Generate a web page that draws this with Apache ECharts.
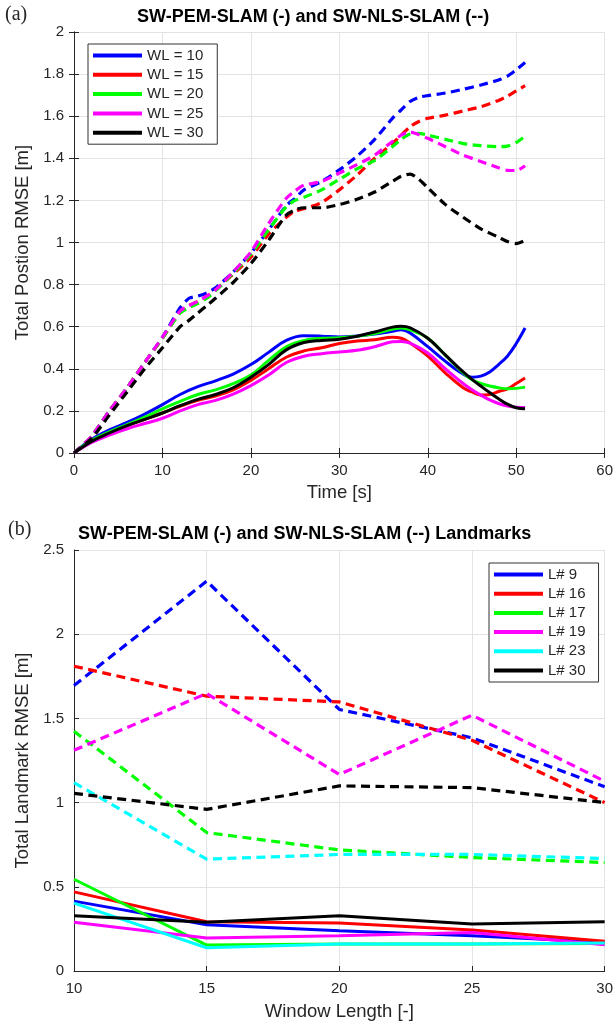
<!DOCTYPE html>
<html>
<head>
<meta charset="utf-8">
<script src="https://cdn.jsdelivr.net/npm/echarts@6/dist/echarts.min.js"></script>
<style>
  html, body { margin: 0; padding: 0; background: #fff; }
  #chart { width: 616px; height: 1028px; }
</style>
</head>
<body>
<div id="chart"></div>
<script>
// ---------- (a) Total position RMSE over time ----------
const wlNames = ['WL = 10', 'WL = 15', 'WL = 20', 'WL = 25', 'WL = 30'];
const colorsA = ['#0000ff', '#ff0000', '#00ff00', '#ff00ff', '#000000'];

// SW-PEM-SLAM (solid)
const timePem = [0, 2, 4, 6, 8, 10, 12, 14, 16, 18, 20, 22, 24, 26, 28, 30, 32, 34, 36, 37, 38, 40, 42, 44, 45, 46, 47, 48, 49, 50, 51];
const pemWL10 = [0, 0.065, 0.11, 0.145, 0.185, 0.23, 0.278, 0.315, 0.343, 0.375, 0.42, 0.478, 0.535, 0.557, 0.555, 0.551, 0.556, 0.565, 0.578, 0.585, 0.57, 0.505, 0.435, 0.375, 0.36, 0.365, 0.385, 0.42, 0.46, 0.52, 0.594];
const pemWL15 = [0, 0.055, 0.095, 0.13, 0.16, 0.19, 0.222, 0.25, 0.27, 0.3, 0.345, 0.4, 0.455, 0.485, 0.5, 0.52, 0.532, 0.538, 0.55, 0.545, 0.522, 0.46, 0.38, 0.31, 0.29, 0.275, 0.278, 0.292, 0.305, 0.33, 0.356];
const pemWL20 = [0, 0.06, 0.1, 0.135, 0.17, 0.21, 0.245, 0.278, 0.3, 0.33, 0.37, 0.44, 0.505, 0.535, 0.545, 0.548, 0.555, 0.568, 0.588, 0.594, 0.585, 0.545, 0.465, 0.38, 0.348, 0.33, 0.318, 0.31, 0.305, 0.307, 0.313];
const pemWL25 = [0, 0.05, 0.085, 0.115, 0.14, 0.165, 0.2, 0.23, 0.25, 0.28, 0.32, 0.37, 0.43, 0.46, 0.472, 0.48, 0.488, 0.505, 0.528, 0.53, 0.522, 0.475, 0.4, 0.33, 0.3, 0.275, 0.252, 0.235, 0.223, 0.217, 0.216];
const pemWL30 = [0, 0.055, 0.095, 0.13, 0.16, 0.19, 0.225, 0.255, 0.278, 0.31, 0.36, 0.42, 0.49, 0.525, 0.535, 0.54, 0.555, 0.575, 0.598, 0.602, 0.595, 0.545, 0.465, 0.385, 0.35, 0.318, 0.287, 0.258, 0.232, 0.215, 0.21];

// SW-NLS-SLAM (dashed)
const timeNls = [0, 2, 4, 6, 8, 10, 12, 13, 14, 15, 16, 18, 20, 22, 24, 25, 26, 28, 30, 32, 34, 36, 37, 38, 39, 40, 42, 44, 46, 48, 49, 50, 51];
const nlsWL10 = [0, 0.08, 0.2, 0.31, 0.43, 0.55, 0.69, 0.735, 0.745, 0.76, 0.785, 0.86, 0.95, 1.06, 1.175, 1.21, 1.25, 1.29, 1.345, 1.41, 1.49, 1.59, 1.63, 1.67, 1.69, 1.698, 1.71, 1.728, 1.748, 1.772, 1.79, 1.82, 1.855];
const nlsWL15 = [0, 0.08, 0.2, 0.31, 0.43, 0.545, 0.67, 0.7, 0.72, 0.745, 0.775, 0.85, 0.93, 1.04, 1.12, 1.15, 1.16, 1.19, 1.25, 1.32, 1.4, 1.47, 1.51, 1.55, 1.575, 1.59, 1.605, 1.625, 1.645, 1.675, 1.695, 1.72, 1.745];
const nlsWL20 = [0, 0.08, 0.2, 0.31, 0.43, 0.545, 0.665, 0.69, 0.71, 0.735, 0.77, 0.855, 0.945, 1.06, 1.17, 1.2, 1.215, 1.25, 1.3, 1.35, 1.39, 1.455, 1.49, 1.515, 1.518, 1.51, 1.49, 1.47, 1.46, 1.455, 1.458, 1.475, 1.505];
const nlsWL25 = [0, 0.08, 0.2, 0.31, 0.43, 0.55, 0.675, 0.7, 0.72, 0.745, 0.775, 0.86, 0.955, 1.09, 1.21, 1.245, 1.272, 1.29, 1.33, 1.37, 1.415, 1.48, 1.51, 1.525, 1.512, 1.495, 1.455, 1.415, 1.385, 1.355, 1.343, 1.342, 1.365];
const nlsWL30 = [0, 0.07, 0.18, 0.29, 0.4, 0.5, 0.6, 0.63, 0.665, 0.7, 0.735, 0.81, 0.9, 1.01, 1.13, 1.155, 1.165, 1.165, 1.18, 1.205, 1.24, 1.29, 1.315, 1.325, 1.3, 1.26, 1.18, 1.12, 1.065, 1.025, 1.005, 0.995, 1.01];

// ---------- (b) Landmark RMSE vs window length ----------
const windowLengths = [10, 15, 20, 25, 30];
const landmarkNames = ['L# 9', 'L# 16', 'L# 17', 'L# 19', 'L# 23', 'L# 30'];
const colorsB = ['#0000ff', '#ff0000', '#00ff00', '#ff00ff', '#00ffff', '#000000'];

const pemL9  = [0.415, 0.275, 0.239, 0.209, 0.17];
const pemL16 = [0.47, 0.292, 0.285, 0.243, 0.176];
const pemL17 = [0.545, 0.154, 0.16, 0.16, 0.164];
const pemL19 = [0.289, 0.196, 0.209, 0.229, 0.156];
const pemL23 = [0.403, 0.138, 0.16, 0.16, 0.166];
const pemL30 = [0.328, 0.289, 0.328, 0.279, 0.292];

const nlsL9  = [1.695, 2.315, 1.553, 1.385, 1.094];
const nlsL16 = [1.81, 1.632, 1.598, 1.37, 1.0];
const nlsL17 = [1.424, 0.822, 0.719, 0.674, 0.644];
const nlsL19 = [1.311, 1.648, 1.167, 1.519, 1.127];
const nlsL23 = [1.119, 0.664, 0.692, 0.692, 0.668];
const nlsL30 = [1.055, 0.96, 1.099, 1.089, 1.0];

const AXIS_COLOR = '#262626';
const GRID_COLOR = '#e3e3e3';
const SANS = "'Liberation Sans', Arial, Helvetica, sans-serif";

function fmt(v) { return String(Math.round(v * 10) / 10); }

function makeLine(name, xs, ys, color, dashed, xi, yi, smooth) {
  return {
    type: 'line',
    name: name,
    xAxisIndex: xi,
    yAxisIndex: yi,
    data: xs.map((x, i) => [x, ys[i]]),
    symbol: 'none',
    showSymbol: false,
    smooth: smooth,
    color: color,
    lineStyle: { color: color, width: dashed ? 3.2 : 3, type: dashed ? [9, 5.5] : 'solid', cap: 'butt' },
    itemStyle: { color: color },
    emphasis: { disabled: true },
    z: dashed ? 3 : 2
  };
}

const pemA = [pemWL10, pemWL15, pemWL20, pemWL25, pemWL30];
const nlsA = [nlsWL10, nlsWL15, nlsWL20, nlsWL25, nlsWL30];
const pemB = [pemL9, pemL16, pemL17, pemL19, pemL23, pemL30];
const nlsB = [nlsL9, nlsL16, nlsL17, nlsL19, nlsL23, nlsL30];

const series = [];
pemA.forEach((ys, i) => series.push(makeLine(wlNames[i], timePem, ys, colorsA[i], false, 0, 0, 0.4)));
nlsA.forEach((ys, i) => series.push(makeLine(wlNames[i] + ' NLS', timeNls, ys, colorsA[i], true, 0, 0, 0.25)));
pemB.forEach((ys, i) => series.push(makeLine(landmarkNames[i], windowLengths, ys, colorsB[i], false, 2, 2, false)));
nlsB.forEach((ys, i) => series.push(makeLine(landmarkNames[i] + ' NLS', windowLengths, ys, colorsB[i], true, 2, 2, false)));

const tickLabel = { color: AXIS_COLOR, fontFamily: SANS, fontSize: 15 };
const axisLine = { show: true, lineStyle: { color: AXIS_COLOR, width: 1 } };
const inTick = { show: true, inside: true, length: 5, lineStyle: { color: AXIS_COLOR } };
const split = { show: true, lineStyle: { color: GRID_COLOR, width: 1 } };
const nameStyle = { color: AXIS_COLOR, fontFamily: SANS, fontSize: 18.5 };

const option = {
  animation: false,
  backgroundColor: '#fff',
  title: [
    { text: '(a)', left: 5, top: 5, padding: 0,
      textStyle: { fontFamily: "'Liberation Serif', 'Times New Roman', serif", fontWeight: 'normal', fontSize: 20, color: AXIS_COLOR } },
    { text: 'SW-PEM-SLAM (-) and SW-NLS-SLAM (--)', left: 137, top: 8, padding: 0,
      textStyle: { fontFamily: SANS, fontWeight: 'bold', fontSize: 18, color: '#000' } },
    { text: '(b)', left: 8, top: 520, padding: 0,
      textStyle: { fontFamily: "'Liberation Serif', 'Times New Roman', serif", fontWeight: 'normal', fontSize: 20, color: AXIS_COLOR } },
    { text: 'SW-PEM-SLAM (-) and SW-NLS-SLAM (--) Landmarks', left: 78, top: 525, padding: 0,
      textStyle: { fontFamily: SANS, fontWeight: 'bold', fontSize: 18, color: '#000' } }
  ],
  legend: [
    {
      data: wlNames, orient: 'vertical', left: 88, top: 44,
      padding: [2, 14, 2, 5], itemGap: 0.3, itemWidth: 49, itemHeight: 4, icon: 'rect',
      backgroundColor: '#fff', borderColor: '#333', borderWidth: 1,
      textStyle: { color: AXIS_COLOR, fontFamily: SANS, fontSize: 15, lineHeight: 19 },
      selectedMode: false
    },
    {
      data: landmarkNames, orient: 'vertical', left: 489, top: 563,
      padding: [2, 13, 2, 5], itemGap: 0.2, itemWidth: 49, itemHeight: 4, icon: 'rect',
      backgroundColor: '#fff', borderColor: '#333', borderWidth: 1,
      textStyle: { color: AXIS_COLOR, fontFamily: SANS, fontSize: 15, lineHeight: 19 },
      selectedMode: false
    }
  ],
  grid: [
    { left: 74, top: 32, width: 535, height: 421, containLabel: false },
    { left: 74, top: 550, width: 535, height: 421, containLabel: false }
  ],
  xAxis: [
    { type: 'value', gridIndex: 0, min: 0, max: 60, interval: 10, position: 'bottom',
      name: 'Time [s]', nameLocation: 'middle', nameGap: 30, nameTextStyle: nameStyle,
      axisLine: axisLine, axisTick: inTick, splitLine: split,
      axisLabel: Object.assign({ margin: 10, formatter: fmt }, tickLabel) },
    { type: 'value', gridIndex: 0, min: 0, max: 60, interval: 10, position: 'top',
      axisLine: axisLine, axisTick: inTick, splitLine: { show: false }, axisLabel: { show: false } },
    { type: 'value', gridIndex: 1, min: 10, max: 30, interval: 5, position: 'bottom',
      name: 'Window Length [-]', nameLocation: 'middle', nameGap: 31, nameTextStyle: nameStyle,
      axisLine: axisLine, axisTick: inTick, splitLine: split,
      axisLabel: Object.assign({ margin: 10, formatter: fmt }, tickLabel) }
  ],
  yAxis: [
    { type: 'value', gridIndex: 0, min: 0, max: 2, interval: 0.2, position: 'left',
      name: 'Total Postion RMSE [m]', nameLocation: 'middle', nameGap: 35, nameTextStyle: nameStyle,
      axisLine: axisLine, axisTick: inTick, splitLine: split,
      axisLabel: Object.assign({ margin: 10, formatter: fmt }, tickLabel) },
    { type: 'value', gridIndex: 0, min: 0, max: 2, interval: 0.2, position: 'right',
      axisLine: axisLine, axisTick: inTick, splitLine: { show: false }, axisLabel: { show: false } },
    { type: 'value', gridIndex: 1, min: 0, max: 2.5, interval: 0.5, position: 'left',
      name: 'Total Landmark RMSE [m]', nameLocation: 'middle', nameGap: 35, nameTextStyle: nameStyle,
      axisLine: axisLine, axisTick: inTick, splitLine: split,
      axisLabel: Object.assign({ margin: 10, formatter: fmt }, tickLabel) }
  ],
  series: series
};

const chart = echarts.init(document.getElementById('chart'), null, { renderer: 'canvas' });
chart.setOption(option);
</script>
</body>
</html>
